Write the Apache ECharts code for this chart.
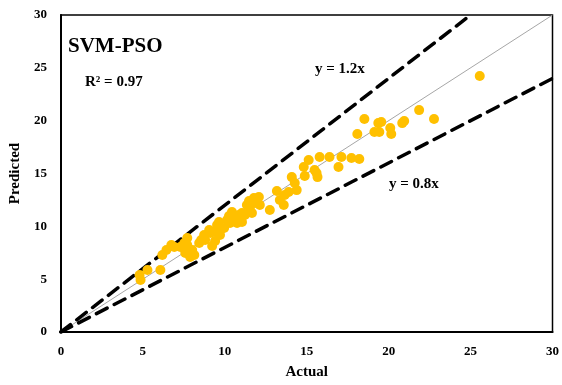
<!DOCTYPE html>
<html>
<head>
<meta charset="utf-8">
<script src="https://cdn.jsdelivr.net/npm/echarts@6/dist/echarts.min.js"></script>
<style>html,body{margin:0;padding:0;background:#fff}#c{width:562px;height:385px}</style>
</head>
<body>
<div id="c"></div>
<script>
const actual = [4.80,4.86,5.28,6.07,6.19,6.44,6.74,6.92,7.29,7.53,7.71,7.71,7.59,7.89,8.14,8.01,8.44,8.56,8.80,8.74,9.11,9.41,9.23,9.41,9.71,9.05,9.53,9.65,9.71,10.14,10.26,10.32,10.44,10.63,10.87,11.05,10.75,11.35,11.48,11.23,11.54,11.84,12.08,11.78,12.14,11.66,12.75,13.36,13.66,13.90,13.60,13.18,9.96,11.05,10.50,14.09,14.27,14.39,14.88,14.82,15.48,15.60,15.66,15.12,15.79,16.39,17.12,17.73,18.21,16.94,18.52,21.86,22.77,18.09,19.37,19.55,19.13,19.43,20.10,20.16,20.83,20.95,25.56];
const predicted = [5.39,4.92,5.87,5.87,7.28,7.76,8.23,8.04,8.04,8.42,8.89,8.23,7.47,7.10,7.28,7.76,8.42,8.70,8.70,9.18,9.37,9.46,8.14,8.61,9.18,9.65,10.12,10.41,9.65,10.60,10.97,10.31,11.35,10.79,11.07,11.26,10.31,12.02,12.39,11.07,11.54,12.20,12.77,12.68,12.02,11.26,11.54,12.49,12.96,13.25,12.02,13.34,9.84,10.41,10.50,14.66,14.10,13.43,14.76,15.61,15.33,15.04,14.66,16.27,16.56,16.56,16.56,16.46,16.37,15.61,20.15,21.00,20.15,18.73,19.77,19.87,18.92,18.92,19.30,18.73,19.77,19.96,24.22];
const upperLine = [[0,0],[25,30]];
const lowerLine = [[0,0],[30,24]];
const identityLine = [[0,0],[30,30]];
const xTicks = [0,5,10,15,20,25,30];
const yTicks = [0,5,10,15,20,25,30];

const font = 'Liberation Serif';
const pts = actual.map((a,i)=>[a,predicted[i]]);
const chart = echarts.init(document.getElementById('c'));
chart.setOption({
  animation:false,
  backgroundColor:'#fff',
  grid:{left:58,right:9,top:15,bottom:53,show:true,borderColor:'#000',borderWidth:1.5,backgroundColor:'transparent'},
  xAxis:{type:'value',min:0,max:30,interval:5,
    name:'Actual',nameLocation:'middle',nameGap:33,
    nameTextStyle:{fontFamily:font,fontWeight:'bold',fontSize:15,color:'#000'},
    axisLine:{show:true,lineStyle:{color:'#000',width:2}},
    axisTick:{show:false},splitLine:{show:false},
    axisLabel:{fontFamily:font,fontWeight:'bold',fontSize:13,color:'#000',margin:13,
      formatter:v=>xTicks.includes(v)?String(v):''}},
  yAxis:{type:'value',min:0,max:30,interval:5,
    name:'Predicted',nameLocation:'middle',nameGap:33,
    nameTextStyle:{fontFamily:font,fontWeight:'bold',fontSize:15,color:'#000'},
    axisLine:{show:true,lineStyle:{color:'#000',width:2}},
    axisTick:{show:false},splitLine:{show:false},
    axisLabel:{fontFamily:font,fontWeight:'bold',fontSize:13,color:'#000',margin:14,
      formatter:v=>yTicks.includes(v)?String(v):''}},
  series:[
    {type:'line',data:identityLine,symbol:'none',lineStyle:{color:'#a6a6a6',width:1},z:1},
    {type:'line',data:upperLine,symbol:'none',lineStyle:{color:'#000',width:3.5,type:[12,8],cap:'round'},z:2},
    {type:'line',data:lowerLine,symbol:'none',lineStyle:{color:'#000',width:3.5,type:[12,8],cap:'round'},z:2},
    {type:'scatter',data:pts,symbol:'circle',symbolSize:10,itemStyle:{color:'#FFC000',opacity:1},z:3}
  ],
  graphic:[
    {type:'text',left:68,top:36,style:{text:'SVM-PSO',fontFamily:font,fontWeight:'bold',fontSize:21,fill:'#000'}},
    {type:'text',left:85,top:75,style:{text:'R² = 0.97',fontFamily:font,fontWeight:'bold',fontSize:15,fill:'#000'}},
    {type:'text',left:315,top:62,style:{text:'y = 1.2x',fontFamily:font,fontWeight:'bold',fontSize:15,fill:'#000'}},
    {type:'text',left:389,top:177,style:{text:'y = 0.8x',fontFamily:font,fontWeight:'bold',fontSize:15,fill:'#000'}}
  ]
});
</script>
</body>
</html>
